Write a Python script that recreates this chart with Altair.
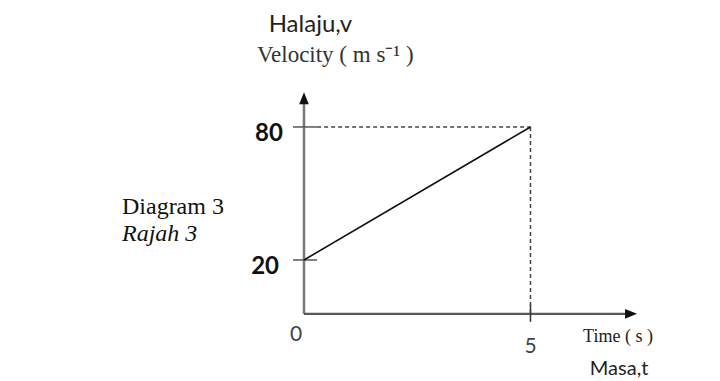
import altair as alt
import pandas as pd

# --- data ---
t_line = [0, 5]          # time (s)
v_line = [20, 80]        # velocity (m/s)
y_tick_values = [20, 80]
y_tick_labels = ["20", "80"]
x_tick_values = [0, 5]
x_tick_labels = ["0", "5"]
axis_origin_v = -4.3     # where the drawn time axis crosses (diagram not to scale)
y_axis_top = 93.0
x_axis_end = 7.2

xs = alt.Scale(domain=[-6.534, 9.007], nice=False, zero=False)
ys = alt.Scale(domain=[-34.15, 133.67], nice=False, zero=False)


def X(field="t"):
    return alt.X(f"{field}:Q", scale=xs, axis=None)


def Y(field="v"):
    return alt.Y(f"{field}:Q", scale=ys, axis=None)


def segs(rows, **style):
    df = pd.DataFrame(rows, columns=["t", "v", "t2", "v2"])
    return alt.Chart(df).mark_rule(**style).encode(
        x=X("t"), y=Y("v"), x2="t2:Q", y2="v2:Q"
    )


def label(text, t, v, **style):
    df = pd.DataFrame({"t": [t], "v": [v], "label": [text]})
    return alt.Chart(df).mark_text(**style).encode(x=X(), y=Y(), text="label:N")


layers = []

# axes
layers.append(segs([[0, axis_origin_v, 0, y_axis_top]], color="#7a7a7a", strokeWidth=2.6))
layers.append(segs([[0, axis_origin_v, x_axis_end, axis_origin_v]], color="#5a5a5a", strokeWidth=2.4))

# tick marks
layers.append(segs([[-0.243, v, 0.287, v] for v in y_tick_values], color="#555", strokeWidth=1.5))
layers.append(segs([[x_tick_values[1], -0.1, x_tick_values[1], -7.9]], color="#333", strokeWidth=1.5))

# dashed guides
layers.append(segs([[0.29, v_line[1], t_line[1], v_line[1]],
                    [t_line[1], v_line[1], t_line[1], axis_origin_v]],
                   color="#444", strokeWidth=1.5, strokeDash=[4, 3]))

# the velocity line
layers.append(alt.Chart(pd.DataFrame({"t": t_line, "v": v_line}))
              .mark_line(color="#111", strokeWidth=1.6).encode(x=X(), y=Y()))

# arrow heads
up = pd.DataFrame({"t": [0], "v": [y_axis_top]})
layers.append(alt.Chart(up).mark_point(shape="M0,-1L0.8,1L-0.8,1Z", filled=True, color="#111",
                                       size=144, opacity=1, strokeWidth=0).encode(x=X(), y=Y()))
right = pd.DataFrame({"t": [x_axis_end + 0.02], "v": [axis_origin_v]})
layers.append(alt.Chart(right).mark_point(shape="M1,0L-1,-0.8L-1,0.8Z", filled=True, color="#111",
                                          size=144, opacity=1, strokeWidth=0).encode(x=X(), y=Y()))

# tick labels
layers.append(label(y_tick_labels[1], -0.464, 76.8, align="right", font="Lato", fontSize=24,
                    fontWeight="bold", color="#111"))
layers.append(label(y_tick_labels[0], -0.552, 16.8, align="right", font="Lato", fontSize=24,
                    fontWeight="bold", color="#111"))
layers.append(label(x_tick_labels[0], -0.177, -13.85, align="center", font="Lato", fontSize=21,
                    color="#444"))
layers.append(label(x_tick_labels[1], 5.0, -19.2, align="center", font="Lato", fontSize=21,
                    color="#444"))

# axis titles
layers.append(label("Halaju,v", -0.78, 126.0, align="left", font="Lato", fontSize=24, color="#1f1f1f"))
layers.append(label("Velocity ( m s\u207b\u00b9 )", -1.038, 112.3, align="left",
                    font="Liberation Serif", fontSize=23, color="#333"))
layers.append(label("Time ( s )", 6.16, -14.75, align="left", font="Liberation Serif",
                    fontSize=18, color="#222"))
layers.append(label("Masa,t", 6.31, -29.4, align="left", font="Lato", fontSize=20, color="#1f1f1f"))

# caption
layers.append(label("Diagram 3", -4.018, 43.8, align="left", font="Liberation Serif",
                    fontSize=24, color="#111"))
layers.append(label("Rajah 3", -4.018, 31.7, align="left", font="Liberation Serif",
                    fontSize=24, fontStyle="italic", color="#111"))

chart = alt.layer(*layers).properties(
    width=704, height=372, padding=0, autosize=alt.AutoSizeParams(type="none")
).configure_view(strokeWidth=0)

chart.save("out.html", embed_options={"renderer": "svg", "actions": False})
